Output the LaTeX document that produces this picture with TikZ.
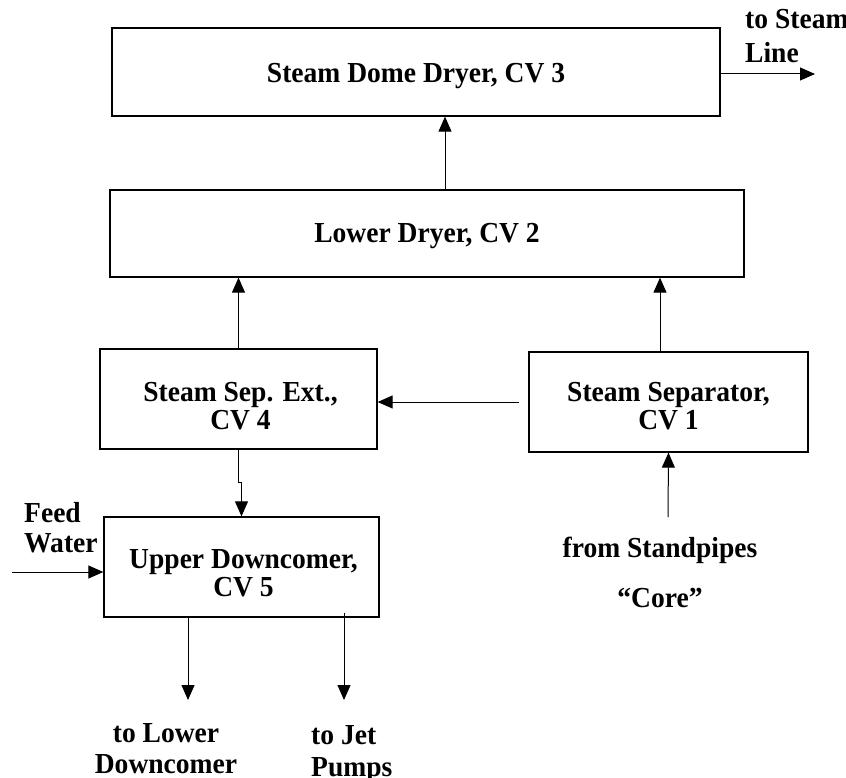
\documentclass[tikz,border=0pt]{standalone}
\usepackage{fontspec}
\setmainfont[FakeStretch=0.95]{Liberation Serif}
\usetikzlibrary{arrows.meta}
\newcommand\dgfont[1]{\fontsize{29}{#1}\selectfont\bfseries}
\begin{document}
\begin{tikzpicture}[x=1pt,y=-1pt,
  box/.style={draw, line width=1.3pt, inner sep=0pt},
  lbl/.style={inner sep=0pt, font=\dgfont{#1}},
  lbl/.default=30,
  arr/.style={line width=1pt, -{Triangle[length=15pt,width=13pt]}}]
\useasboundingbox (0,0) rectangle (846,778);
% boxes
\node[box, minimum width=608pt, minimum height=88pt] (dome) at (416,72) {};
\node[box, minimum width=634pt, minimum height=87pt] (ld) at (427,233.5) {};
\node[box, minimum width=277pt, minimum height=100pt] (se) at (238.5,399) {};
\node[box, minimum width=279pt, minimum height=100pt] (sp) at (668.5,402) {};
\node[box, minimum width=275pt, minimum height=100pt] (ud) at (241.5,567) {};
% box texts
\node[lbl] (dometxt) at ([yshift=-4pt]dome.center) {Steam Dome Dryer, CV 3};
\node[lbl] (ldtxt) at ([yshift=-3pt]ld.center) {Lower Dryer, CV 2};
\node[lbl=28, align=center] (setxt) at ([xshift=2pt,yshift=-7pt]se.center) {Steam Sep. Ext.,\\CV 4};
\node[lbl=28, align=center] (sptxt) at ([yshift=-4pt]sp.center) {Steam Separator,\\CV 1};
\node[lbl=28, align=center] (udtxt) at ([xshift=2pt,yshift=-6pt]ud.center) {Upper Downcomer,\\CV 5};
% labels
\node[lbl=34, anchor=west, align=left] (stl) at (745,36) {to Steam\\Line};
\node[lbl=30, anchor=west, align=left] (fwl) at (24,528) {Feed\\Water};
\node[lbl] (fsp) at (660,550) {from Standpipes};
\node[lbl] (core) at (660,598) {“Core”};
\node[lbl=31, align=center] (ldl) at (166,749) {to Lower\\Downcomer};
\node[lbl=32, anchor=west, align=left] (jpl) at (311,754) {to Jet\\Pumps};
% free ends
\coordinate (slend) at (815,74);
\coordinate (fw) at (12,572);
\coordinate (spin) at (668,517);
\coordinate (lo) at (188,700);
\coordinate (jp) at (344,700);
% connectors
\draw[arr] ([xshift=18pt]ld.north) coordinate (a1) -- (a1 |- dome.south);
\draw[arr] (se.north) -- (se.north |- ld.south);
\draw[arr] ([xshift=-8.5pt]sp.north) coordinate (a2) -- (a2 |- ld.south);
\draw[arr] ([xshift=-9pt]sp.west) coordinate (a3) -- (a3 -| se.east);
\draw[arr] (se.south) -- ++(0,33) -| (ud.north);
\draw[arr] (spin) -- (sp.south);
\draw[arr] (fw) -- (fw -| ud.west);
\draw[arr] (lo |- ud.south) -- (lo);
\draw[arr] ([yshift=5pt]jp |- ud.south) -- (jp);
\draw[arr] (slend -| dome.east) -- (slend);
\end{tikzpicture}
\end{document}
